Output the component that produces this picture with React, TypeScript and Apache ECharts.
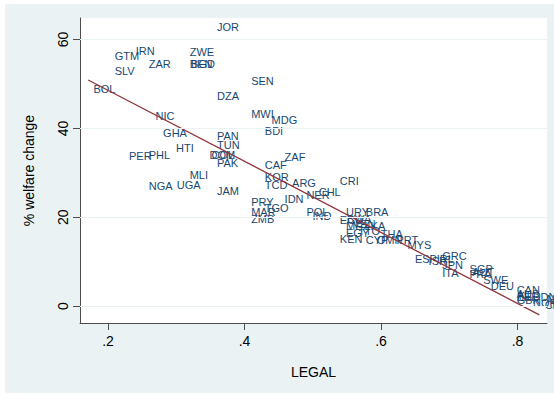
import React, { useEffect, useRef } from "react";
import * as echarts from "echarts";

const countries = [
  "JOR", "GTM", "IRN", "ZWE", "ZAR", "BEN", "BGD", "SLV", "BOL", "SEN",
  "DZA", "NIC", "MWI", "MDG", "BDI", "GHA", "PAN", "TUN", "HTI", "PER",
  "PHL", "DOM", "COL", "ZAF", "PAK", "CAF", "MLI", "KOR", "NGA", "UGA",
  "TCD", "ARG", "JAM", "NER", "CHL", "CRI", "IDN", "PRY", "TGO", "MAR",
  "POL", "IND", "ZMB", "URY", "BRA", "ECU", "BWA", "MEX", "VEN", "LKA",
  "EGY", "TTO", "THA", "KEN", "CYP", "OMN", "PRT", "MYS", "ESP", "ISR",
  "GRC", "IRL", "JPN", "ITA", "SGP", "FRA", "AUT", "SWE", "DEU", "CAN",
  "AUS", "BEL", "GBR", "NLD", "NOR", "DNK", "CHE", "NZL",
];
const legal = [
  0.359, 0.209, 0.240, 0.319, 0.259, 0.319, 0.321, 0.209, 0.178, 0.409,
  0.359, 0.269, 0.409, 0.439, 0.429, 0.280, 0.359, 0.359, 0.299, 0.230,
  0.259, 0.348, 0.351, 0.458, 0.359, 0.429, 0.319, 0.429, 0.259, 0.300,
  0.429, 0.469, 0.359, 0.490, 0.508, 0.539, 0.458, 0.409, 0.429, 0.409,
  0.490, 0.499, 0.409, 0.548, 0.577, 0.539, 0.549, 0.548, 0.558, 0.575,
  0.548, 0.566, 0.599, 0.539, 0.577, 0.593, 0.622, 0.638, 0.649, 0.669,
  0.689, 0.681, 0.689, 0.689, 0.729, 0.729, 0.733, 0.749, 0.760, 0.798,
  0.798, 0.798, 0.798, 0.801, 0.822, 0.833, 0.839, 0.842,
];
const welfare = [
  62.9, 56.3, 57.4, 57.2, 54.6, 54.6, 54.6, 52.9, 48.9, 50.7,
  47.3, 42.9, 43.2, 42.0, 39.5, 38.9, 38.3, 36.3, 35.5, 33.8,
  33.9, 33.9, 33.9, 33.6, 32.1, 31.8, 29.5, 29.1, 27.0, 27.3,
  27.3, 27.8, 25.9, 25.0, 25.7, 28.2, 24.1, 23.5, 22.0, 21.2,
  21.2, 20.3, 19.5, 21.1, 21.1, 19.4, 19.6, 18.0, 18.5, 18.0,
  16.4, 16.9, 16.2, 15.1, 14.9, 14.9, 14.9, 13.7, 10.5, 10.1,
  11.3, 10.6, 9.2, 7.5, 8.3, 7.1, 7.7, 5.9, 4.5, 3.6,
  2.7, 2.0, 1.4, 2.3, 0.7, 2.0, 0.2, 1.6,
];
const fitLegal = [0.171, 0.832];
const fitWelfare = [50.9, -2.0];
const xTicks = [0.2, 0.4, 0.6, 0.8];
const xTickLabels = [".2", ".4", ".6", ".8"];
const yTicks = [0, 20, 40, 60];
const yTickLabels = ["0", "20", "40", "60"];

const FONT = "'Liberation Sans', Arial, Helvetica, sans-serif";
const AXIS_COLOR = "#4d4d4d";

function pick(ticks: number[], labels: string[], v: number) {
  const i = ticks.findIndex((t) => Math.abs(t - v) < 1e-6);
  return i >= 0 ? labels[i] : "";
}

export default function App() {
  const ref = useRef<HTMLDivElement>(null);
  useEffect(() => {
    if (!ref.current) return;
    const chart = echarts.init(ref.current, null, { renderer: "svg" });
    chart.setOption({
      animation: false,
      backgroundColor: "#EAF2F3",
      textStyle: { fontFamily: FONT },
      grid: {
        show: true,
        left: 75,
        top: 14,
        width: 467,
        height: 305,
        backgroundColor: "#ffffff",
        borderWidth: 0,
      },
      xAxis: {
        type: "value",
        min: 0.159,
        max: 0.8432,
        name: "LEGAL",
        nameLocation: "middle",
        nameGap: 42,
        nameTextStyle: { fontSize: 14, color: "#000", fontFamily: FONT },
        axisLine: { show: true, onZero: false, lineStyle: { color: AXIS_COLOR, width: 1 } },
        axisTick: { show: true, customValues: xTicks, length: 7, lineStyle: { color: AXIS_COLOR } },
        axisLabel: {
          customValues: xTicks,
          formatter: (v: number) => pick(xTicks, xTickLabels, v),
          fontSize: 14,
          color: "#000",
          margin: 11,
          fontFamily: FONT,
        },
        splitLine: { show: false },
      },
      yAxis: {
        type: "value",
        min: -3.83,
        max: 64.86,
        name: "% welfare change",
        nameLocation: "middle",
        nameGap: 44,
        nameTextStyle: { fontSize: 14, color: "#000", fontFamily: FONT },
        axisLine: { show: true, onZero: false, lineStyle: { color: AXIS_COLOR, width: 1 } },
        axisTick: { show: true, customValues: yTicks, length: 7, lineStyle: { color: AXIS_COLOR } },
        axisLabel: {
          customValues: yTicks,
          formatter: (v: number) => pick(yTicks, yTickLabels, v),
          fontSize: 14,
          color: "#000",
          rotate: 90,
          margin: 10,
          fontFamily: FONT,
        },
        splitLine: { show: false },
      },
      series: [
        {
          type: "line",
          data: [],
          z: 1,
          silent: true,
          markLine: {
            silent: true,
            symbol: "none",
            label: { show: false },
            lineStyle: { color: "#EAF2F3", width: 1.2, type: "solid" },
            data: yTicks.map((t) => ({ yAxis: t })),
          },
        },
        {
          type: "scatter",
          z: 2,
          symbolSize: 1,
          itemStyle: { color: "rgba(0,0,0,0)" },
          data: countries.map((c, i) => ({ name: c, value: [legal[i], welfare[i]] })),
          label: {
            show: true,
            position: "right",
            distance: 0,
            opacity: 1,
            formatter: (p: any) => p.name,
            color: "#1a476f",
            fontSize: 11,
            fontFamily: FONT,
          },
          labelLayout: { hideOverlap: false },
        },
        {
          type: "line",
          z: 3,
          showSymbol: false,
          silent: true,
          data: fitLegal.map((x, i) => [x, fitWelfare[i]]),
          lineStyle: { color: "#90353B", width: 1.3 },
        },
      ],
    });
    return () => chart.dispose();
  }, []);
  return (
    <div style={{ position: "absolute", left: 0, top: 0, width: 554, height: 394, background: "#fff" }}>
      <div ref={ref} style={{ position: "absolute", left: 5, top: 4, width: 549, height: 389 }} />
    </div>
  );
}
